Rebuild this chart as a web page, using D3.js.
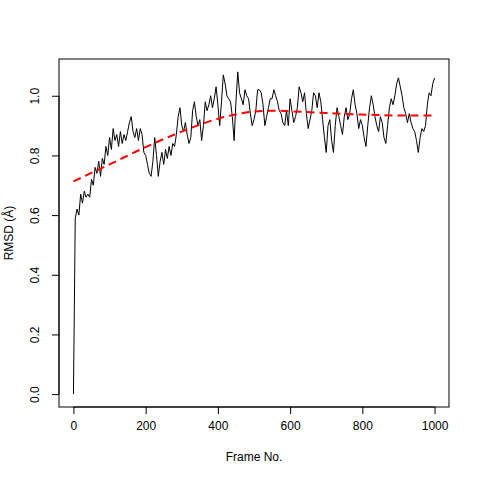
<!DOCTYPE html>
<html>
<head>
<meta charset="UTF-8">
<title>RMSD</title>
<script src="https://cdn.jsdelivr.net/npm/d3@7"></script>
<style>
  body { margin: 0; background: #fff; }
  svg text { font-family: "Liberation Sans", Arial, sans-serif; font-size: 12px; fill: #000; }
</style>
</head>
<body>
<svg id="chart" width="480" height="480"></svg>
<script>
// RMSD, one value every 5 frames (0..1000)
var frameStep = 5;
var rmsd = [
  0.00,0.59,0.62,0.60,0.67,0.64,0.68,0.66,0.67,0.66,
  0.72,0.70,0.76,0.74,0.78,0.73,0.79,0.77,0.83,0.80,
  0.86,0.82,0.89,0.85,0.87,0.83,0.88,0.84,0.87,0.85,
  0.88,0.91,0.93,0.88,0.86,0.89,0.85,0.89,0.87,0.81,
  0.80,0.77,0.74,0.73,0.78,0.86,0.80,0.73,0.78,0.81,
  0.77,0.82,0.79,0.83,0.80,0.84,0.83,0.87,0.93,0.96,
  0.90,0.88,0.91,0.87,0.84,0.86,0.95,0.98,0.93,0.90,
  0.92,0.85,0.90,0.98,0.95,0.97,1.00,0.96,0.99,1.03,
  0.97,0.90,0.98,1.07,1.04,1.00,0.99,0.98,0.93,0.85,
  0.98,1.08,1.01,0.99,0.97,1.02,1.00,0.99,0.94,0.90,
  0.92,0.95,1.02,1.02,1.01,0.97,0.90,0.93,0.96,0.99,
  0.99,1.02,1.00,0.98,0.95,0.94,0.91,0.90,0.95,0.90,
  0.99,0.95,0.91,0.93,0.96,1.03,1.01,0.98,1.01,0.94,
  0.89,0.92,0.95,1.01,1.00,0.96,1.01,0.98,0.92,0.86,
  0.81,0.90,0.92,0.85,0.81,0.90,0.96,0.93,0.90,0.87,
  0.93,0.96,0.92,0.94,0.99,1.02,0.97,0.94,0.89,0.92,
  0.90,0.86,0.83,0.90,0.96,1.00,0.97,0.93,0.90,0.88,
  0.93,0.91,0.86,0.84,0.90,0.96,0.99,0.97,1.00,1.04,
  1.06,1.03,1.00,0.96,0.94,0.91,0.94,0.91,0.89,0.88,
  0.85,0.81,0.86,0.89,0.88,0.90,0.97,1.01,1.00,1.04,
  1.06
];
// smooth trend (red dashed), read at a few frames
var fitFrames = [0, 100, 200, 300, 400, 500, 550, 600, 700, 800, 900, 1000];
var fitValues = [0.713, 0.770, 0.828, 0.880, 0.923, 0.947, 0.950, 0.948, 0.942, 0.937, 0.934, 0.934];
var xTicks = [0, 200, 400, 600, 800, 1000];
var yTicks = [0.0, 0.2, 0.4, 0.6, 0.8, 1.0];

var box = {left: 59, right: 449, top: 59, bottom: 407};
var svg = d3.select('#chart');

var pts = rmsd.map(function(v, i){ return {f: i * frameStep, v: v}; });

// R style 4% padding around the data range
function pad(ext){ var d = (ext[1] - ext[0]) * 0.04; return [ext[0] - d, ext[1] + d]; }
var x = d3.scaleLinear().domain(pad(d3.extent(pts, function(d){ return d.f; }))).range([box.left, box.right]);
var y = d3.scaleLinear().domain(pad(d3.extent(rmsd))).range([box.bottom, box.top]);

svg.append('path')
   .datum(pts)
   .attr('fill', 'none')
   .attr('stroke', '#000')
   .attr('stroke-width', 1)
   .attr('d', d3.line().x(function(d){ return x(d.f); }).y(function(d){ return y(d.v); }));

svg.append('path')
   .datum(fitFrames.map(function(f, i){ return {f: f, v: fitValues[i]}; }))
   .attr('fill', 'none')
   .attr('stroke', '#ff0000')
   .attr('stroke-width', 2)
   .attr('stroke-dasharray', '8,5')
   .attr('d', d3.line().curve(d3.curveMonotoneX).x(function(d){ return x(d.f); }).y(function(d){ return y(d.v); }));

svg.append('rect')
   .attr('x', box.left).attr('y', box.top)
   .attr('width', box.right - box.left).attr('height', box.bottom - box.top)
   .attr('fill', 'none').attr('stroke', '#000').attr('stroke-width', 1);

var xAxis = svg.append('g')
   .attr('transform', 'translate(0,' + box.bottom + ')')
   .call(d3.axisBottom(x).tickValues(xTicks).tickSize(7).tickPadding(7).tickFormat(d3.format('d')));
xAxis.select('.domain').attr('d', 'M' + x(0) + ',0H' + x(1000));

var yAxis = svg.append('g')
   .attr('transform', 'translate(' + box.left + ',0)')
   .call(d3.axisLeft(y).tickValues(yTicks).tickSize(7).tickFormat(d3.format('.1f')));
yAxis.select('.domain').attr('d', 'M0,' + y(0) + 'V' + y(1));
yAxis.selectAll('.tick text')
   .attr('x', 0).attr('dy', 0)
   .attr('text-anchor', 'middle')
   .attr('transform', 'translate(-20,0) rotate(-90)');

svg.selectAll('.domain, .tick line').attr('stroke', '#000');
svg.selectAll('.tick text').attr('fill', '#000').style('font-size', '12px')
   .style('font-family', '"Liberation Sans", Arial, sans-serif');

svg.append('text')
   .attr('x', (box.left + box.right) / 2).attr('y', 461)
   .attr('text-anchor', 'middle')
   .text('Frame No.');

svg.append('text')
   .attr('transform', 'translate(13,' + (box.top + box.bottom) / 2 + ') rotate(-90)')
   .attr('text-anchor', 'middle')
   .text('RMSD (Å)');
</script>
</body>
</html>
